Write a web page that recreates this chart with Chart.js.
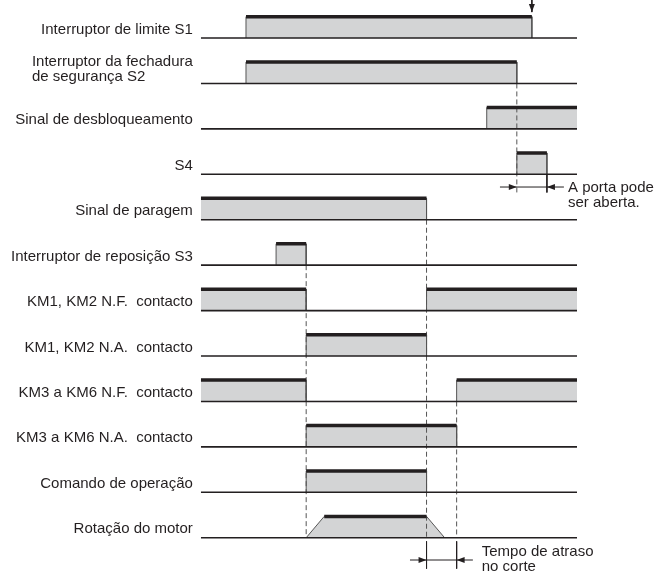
<!DOCTYPE html>
<html>
<head>
<meta charset="utf-8">
<script src="https://cdn.jsdelivr.net/npm/chart.js@4"></script>
<style>
  html, body { margin: 0; padding: 0; background: #fff; }
  canvas { display: block; }
</style>
</head>
<body>
<canvas id="grafico" width="660" height="572"></canvas>
<script>
// Dados do diagrama temporal (tempo em unidades, linha = índice do sinal)
const sinais = [
  'Interruptor de limite S1',
  ['Interruptor da fechadura', 'de segurança S2'],
  'Sinal de desbloqueamento',
  'S4',
  'Sinal de paragem',
  'Interruptor de reposição S3',
  'KM1, KM2 N.F.  contacto',
  'KM1, KM2 N.A.  contacto',
  'KM3 a KM6 N.F.  contacto',
  'KM3 a KM6 N.A.  contacto',
  'Comando de operação',
  'Rotação do motor'
];

// Intervalos em nível alto: [subida, descida]
const pulsos = [
  [[3, 22]],
  [[3, 21]],
  [[19, 25]],
  [[21, 23]],
  [[0, 15]],
  [[5, 7]],
  [[0, 7], [15, 25]],
  [[7, 15]],
  [[0, 7], [17, 25]],
  [[7, 17]],
  [[7, 15]],
  [[7, 15]]
];

// Rampa do motor: início subida, fim subida, início descida, fim descida
const rampaMotor = [7, 8.2, 15, 16.2];

// Linhas tracejadas: [tempo, linha inicial, linha final]
const tracejadas = [[21, 1, 3.4], [7, 5, 11], [15, 4, 11], [17, 8, 11]];
// Marcas verticais contínuas: [tempo, linha inicial, linha final]
const marcas = [[23, 3, 3.4], [15, 11.08, 11.68], [17, 11.08, 11.68]];
// Cotas com setas: [linha, início, fim, ponta esquerda, ponta direita]
const cotas = [[3.28, 19.88, 24.13, 21, 23], [11.49, 13.9, 18.08, 15, 17]];
// Seta de cima (S1)
const setaTopo = [22, -0.84, -0.57];
// Notas
const notas = [
  { texto: ['A porta pode', 'ser aberta.'], t: 24.4, linha: [3.29, 3.63] },
  { texto: ['Tempo de atraso', 'no corte'], t: 18.67, linha: [11.31, 11.64] }
];

const ALTURA = 0.47;
const TEMPO_MAX = 25;

// Constrói o polígono de cada sinal
const pontosSinal = (i) => {
  const base = i, alto = i - ALTURA;
  const pts = [];
  pulsos[i].forEach(([a, b]) => {
    let sobe = a, fimSobe = a, desce = b, fimDesce = b;
    if (i === sinais.length - 1) {
      [sobe, fimSobe, desce, fimDesce] = rampaMotor;
    }
    if (a > 0) pts.push({ x: sobe, y: base });
    pts.push({ x: fimSobe, y: alto });
    pts.push({ x: desce, y: alto });
    if (b < TEMPO_MAX) pts.push({ x: fimDesce, y: base });
  });
  return pts;
};

const datasets = [];

// Topos grossos
const topos = [];
pulsos.forEach((p, i) => {
  p.forEach(([a, b]) => {
    let ini = a, fim = b;
    if (i === sinais.length - 1) { ini = rampaMotor[1]; fim = rampaMotor[2]; }
    topos.push({ x: ini, y: i - ALTURA }, { x: fim, y: i - ALTURA }, { x: fim, y: null });
  });
});
datasets.push({ data: topos, borderColor: '#231f20', borderWidth: 3.5, order: 1 });

// Linhas de base
const bases = [];
sinais.forEach((s, i) => bases.push({ x: 0, y: i }, { x: 25.05, y: i }, { x: 25.05, y: null }));
datasets.push({ data: bases, borderColor: '#231f20', borderWidth: 1.6, order: 1 });

// Tracejadas
const tr = [];
tracejadas.forEach(([t, a, b]) => tr.push({ x: t, y: a }, { x: t, y: b }, { x: t, y: null }));
datasets.push({ data: tr, borderColor: '#555', borderWidth: 1, borderDash: [5, 3], order: 2 });

// Marcas contínuas
const mc = [];
marcas.forEach(([t, a, b]) => mc.push({ x: t, y: a }, { x: t, y: b }, { x: t, y: null }));
cotas.forEach(([l, a, b]) => mc.push({ x: a, y: l }, { x: b, y: l }, { x: b, y: null }));
mc.push({ x: setaTopo[0], y: setaTopo[1] }, { x: setaTopo[0], y: setaTopo[2] });
datasets.push({ data: mc, borderColor: '#231f20', borderWidth: 1, order: 2 });

// Preenchimentos
sinais.forEach((s, i) => {
  datasets.push({
    data: pontosSinal(i),
    borderColor: '#555',
    borderWidth: 1,
    backgroundColor: '#d3d4d5',
    fill: { value: i },
    order: 5
  });
});

// Plugin para textos e pontas de seta
const extras = {
  id: 'extras',
  afterDatasetsDraw(chart) {
    const { ctx, scales: { x, y } } = chart;
    ctx.save();
    ctx.fillStyle = '#231f20';
    ctx.font = '15px "Liberation Sans", Arial, sans-serif';
    ctx.textBaseline = 'middle';
    // rótulos
    ctx.textAlign = 'right';
    const xr = x.getPixelForValue(0) - 8;
    sinais.forEach((s, i) => {
      if (Array.isArray(s)) {
        ctx.textAlign = 'left';
        const w = Math.max(...s.map(l => ctx.measureText(l).width));
        ctx.fillText(s[0], xr - w, y.getPixelForValue(i - 0.48));
        ctx.fillText(s[1], xr - w, y.getPixelForValue(i - 0.14));
        ctx.textAlign = 'right';
      } else {
        ctx.fillText(s, xr, y.getPixelForValue(i - 0.19));
      }
    });
    // notas
    ctx.textAlign = 'left';
    notas.forEach(n => {
      n.texto.forEach((l, k) => ctx.fillText(l, x.getPixelForValue(n.t), y.getPixelForValue(n.linha[k])));
    });
    // pontas de seta
    const ponta = (px, py, dx, dy) => {
      const L = 8, W = 3;
      ctx.beginPath();
      ctx.moveTo(px, py);
      ctx.lineTo(px - dx * L - dy * W, py - dy * L - dx * W);
      ctx.lineTo(px - dx * L + dy * W, py - dy * L + dx * W);
      ctx.closePath();
      ctx.fill();
    };
    cotas.forEach(([l, a, b, pe, pd]) => {
      const py = y.getPixelForValue(l);
      ponta(x.getPixelForValue(pe), py, 1, 0);
      ponta(x.getPixelForValue(pd), py, -1, 0);
    });
    ponta(x.getPixelForValue(setaTopo[0]), y.getPixelForValue(setaTopo[2]), 0, 1);
    ctx.restore();
  }
};

new Chart(document.getElementById('grafico').getContext('2d'), {
  type: 'line',
  data: { datasets },
  options: {
    responsive: false,
    animation: false,
    devicePixelRatio: 1,
    spanGaps: false,
    elements: { point: { radius: 0 }, line: { tension: 0, fill: false } },
    layout: { padding: { left: 200.85, right: 83, top: 0, bottom: 0 } },
    plugins: { legend: { display: false }, tooltip: { enabled: false } },
    scales: {
      x: { type: 'linear', min: 0, max: TEMPO_MAX, display: false },
      y: { type: 'linear', min: -0.8365, max: 11.754, reverse: true, display: false }
    }
  },
  plugins: [extras]
});
</script>
</body>
</html>
